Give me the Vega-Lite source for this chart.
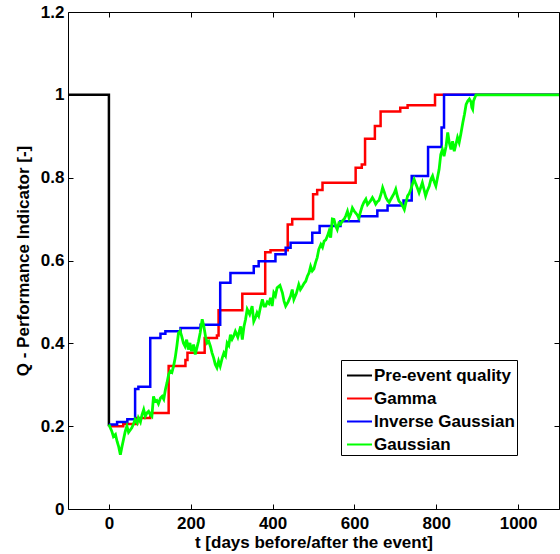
{
  "$schema": "https://vega.github.io/schema/vega-lite/v6.json",
  "autosize": {"type": "none"},
  "width": 491,
  "height": 497,
  "padding": {"left": 68, "top": 12, "right": 1, "bottom": 45},
  "background": "white",
  "config": {
    "font": "Liberation Sans",
    "view": {"stroke": "black", "strokeWidth": 1},
    "axis": {
      "labelFont": "Liberation Sans", "labelFontSize": 17, "labelFontWeight": "bold", "labelColor": "black",
      "titleFont": "Liberation Sans", "titleFontSize": 17, "titleFontWeight": "bold", "titleColor": "black",
      "domain": false, "tickColor": "black", "tickWidth": 1, "tickSize": 5, "offset": -5, "grid": false,
      "labelFlush": false, "labelOverlap": false
    }
  },
  "data": {"values": [
    {"s": "Pre-event quality", "t": -100, "q": 1},
    {"s": "Pre-event quality", "t": 0, "q": 0.2},

    {"s": "Gamma", "t": 0, "q": 0.2},
    {"s": "Gamma", "t": 35, "q": 0.205},
    {"s": "Gamma", "t": 69, "q": 0.22},
    {"s": "Gamma", "t": 101, "q": 0.232},
    {"s": "Gamma", "t": 146, "q": 0.345},
    {"s": "Gamma", "t": 187, "q": 0.36},
    {"s": "Gamma", "t": 192, "q": 0.377},
    {"s": "Gamma", "t": 234, "q": 0.413},
    {"s": "Gamma", "t": 264, "q": 0.419},
    {"s": "Gamma", "t": 268, "q": 0.48},
    {"s": "Gamma", "t": 326, "q": 0.52},
    {"s": "Gamma", "t": 382, "q": 0.62},
    {"s": "Gamma", "t": 395, "q": 0.625},
    {"s": "Gamma", "t": 437, "q": 0.687},
    {"s": "Gamma", "t": 448, "q": 0.7},
    {"s": "Gamma", "t": 499, "q": 0.76},
    {"s": "Gamma", "t": 509, "q": 0.77},
    {"s": "Gamma", "t": 522, "q": 0.788},
    {"s": "Gamma", "t": 603, "q": 0.824},
    {"s": "Gamma", "t": 618, "q": 0.832},
    {"s": "Gamma", "t": 626, "q": 0.894},
    {"s": "Gamma", "t": 650, "q": 0.925},
    {"s": "Gamma", "t": 664, "q": 0.96},
    {"s": "Gamma", "t": 712, "q": 0.969},
    {"s": "Gamma", "t": 730, "q": 0.975},
    {"s": "Gamma", "t": 797, "q": 1},
    {"s": "Gamma", "t": 1100, "q": 1},

    {"s": "Inverse Gaussian", "t": 0, "q": 0.204},
    {"s": "Inverse Gaussian", "t": 20, "q": 0.21},
    {"s": "Inverse Gaussian", "t": 45, "q": 0.217},
    {"s": "Inverse Gaussian", "t": 64, "q": 0.29},
    {"s": "Inverse Gaussian", "t": 72, "q": 0.295},
    {"s": "Inverse Gaussian", "t": 101, "q": 0.413},
    {"s": "Inverse Gaussian", "t": 126, "q": 0.423},
    {"s": "Inverse Gaussian", "t": 138, "q": 0.429},
    {"s": "Inverse Gaussian", "t": 175, "q": 0.437},
    {"s": "Inverse Gaussian", "t": 224, "q": 0.445},
    {"s": "Inverse Gaussian", "t": 272, "q": 0.546},
    {"s": "Inverse Gaussian", "t": 297, "q": 0.57},
    {"s": "Inverse Gaussian", "t": 354, "q": 0.586},
    {"s": "Inverse Gaussian", "t": 366, "q": 0.598},
    {"s": "Inverse Gaussian", "t": 407, "q": 0.615},
    {"s": "Inverse Gaussian", "t": 432, "q": 0.631},
    {"s": "Inverse Gaussian", "t": 444, "q": 0.643},
    {"s": "Inverse Gaussian", "t": 497, "q": 0.667},
    {"s": "Inverse Gaussian", "t": 515, "q": 0.683},
    {"s": "Inverse Gaussian", "t": 566, "q": 0.695},
    {"s": "Inverse Gaussian", "t": 611, "q": 0.707},
    {"s": "Inverse Gaussian", "t": 656, "q": 0.721},
    {"s": "Inverse Gaussian", "t": 681, "q": 0.733},
    {"s": "Inverse Gaussian", "t": 720, "q": 0.745},
    {"s": "Inverse Gaussian", "t": 740, "q": 0.804},
    {"s": "Inverse Gaussian", "t": 780, "q": 0.874},
    {"s": "Inverse Gaussian", "t": 813, "q": 0.921},
    {"s": "Inverse Gaussian", "t": 819, "q": 1},
    {"s": "Inverse Gaussian", "t": 1100, "q": 1},

    {"s": "Gaussian", "t": 0, "q": 0.204},
    {"s": "Gaussian", "t": 7, "q": 0.188},
    {"s": "Gaussian", "t": 11, "q": 0.175},
    {"s": "Gaussian", "t": 16, "q": 0.18},
    {"s": "Gaussian", "t": 20, "q": 0.163},
    {"s": "Gaussian", "t": 24, "q": 0.15},
    {"s": "Gaussian", "t": 28, "q": 0.131},
    {"s": "Gaussian", "t": 32, "q": 0.151},
    {"s": "Gaussian", "t": 40, "q": 0.188},
    {"s": "Gaussian", "t": 44, "q": 0.2},
    {"s": "Gaussian", "t": 48, "q": 0.185},
    {"s": "Gaussian", "t": 56, "q": 0.196},
    {"s": "Gaussian", "t": 60, "q": 0.205},
    {"s": "Gaussian", "t": 64, "q": 0.216},
    {"s": "Gaussian", "t": 69, "q": 0.208},
    {"s": "Gaussian", "t": 72, "q": 0.22},
    {"s": "Gaussian", "t": 77, "q": 0.21},
    {"s": "Gaussian", "t": 81, "q": 0.228},
    {"s": "Gaussian", "t": 85, "q": 0.24},
    {"s": "Gaussian", "t": 89, "q": 0.224},
    {"s": "Gaussian", "t": 93, "q": 0.232},
    {"s": "Gaussian", "t": 97, "q": 0.236},
    {"s": "Gaussian", "t": 101, "q": 0.228},
    {"s": "Gaussian", "t": 105, "q": 0.224},
    {"s": "Gaussian", "t": 109, "q": 0.272},
    {"s": "Gaussian", "t": 113, "q": 0.26},
    {"s": "Gaussian", "t": 117, "q": 0.262},
    {"s": "Gaussian", "t": 121, "q": 0.254},
    {"s": "Gaussian", "t": 126, "q": 0.268},
    {"s": "Gaussian", "t": 130, "q": 0.272},
    {"s": "Gaussian", "t": 134, "q": 0.265},
    {"s": "Gaussian", "t": 138, "q": 0.288},
    {"s": "Gaussian", "t": 142, "q": 0.305},
    {"s": "Gaussian", "t": 146, "q": 0.325},
    {"s": "Gaussian", "t": 150, "q": 0.333},
    {"s": "Gaussian", "t": 154, "q": 0.33},
    {"s": "Gaussian", "t": 158, "q": 0.345},
    {"s": "Gaussian", "t": 162, "q": 0.365},
    {"s": "Gaussian", "t": 166, "q": 0.393},
    {"s": "Gaussian", "t": 170, "q": 0.425},
    {"s": "Gaussian", "t": 174, "q": 0.43},
    {"s": "Gaussian", "t": 178, "q": 0.417},
    {"s": "Gaussian", "t": 182, "q": 0.401},
    {"s": "Gaussian", "t": 186, "q": 0.393},
    {"s": "Gaussian", "t": 190, "q": 0.409},
    {"s": "Gaussian", "t": 194, "q": 0.385},
    {"s": "Gaussian", "t": 198, "q": 0.401},
    {"s": "Gaussian", "t": 202, "q": 0.381},
    {"s": "Gaussian", "t": 207, "q": 0.397},
    {"s": "Gaussian", "t": 211, "q": 0.373},
    {"s": "Gaussian", "t": 215, "q": 0.389},
    {"s": "Gaussian", "t": 219, "q": 0.405},
    {"s": "Gaussian", "t": 223, "q": 0.425},
    {"s": "Gaussian", "t": 228, "q": 0.458},
    {"s": "Gaussian", "t": 232, "q": 0.441},
    {"s": "Gaussian", "t": 236, "q": 0.417},
    {"s": "Gaussian", "t": 240, "q": 0.401},
    {"s": "Gaussian", "t": 244, "q": 0.405},
    {"s": "Gaussian", "t": 248, "q": 0.393},
    {"s": "Gaussian", "t": 252, "q": 0.377},
    {"s": "Gaussian", "t": 256, "q": 0.365},
    {"s": "Gaussian", "t": 260, "q": 0.349},
    {"s": "Gaussian", "t": 264, "q": 0.341},
    {"s": "Gaussian", "t": 268, "q": 0.357},
    {"s": "Gaussian", "t": 272, "q": 0.345},
    {"s": "Gaussian", "t": 277, "q": 0.365},
    {"s": "Gaussian", "t": 281, "q": 0.377},
    {"s": "Gaussian", "t": 285, "q": 0.37},
    {"s": "Gaussian", "t": 289, "q": 0.401},
    {"s": "Gaussian", "t": 293, "q": 0.395},
    {"s": "Gaussian", "t": 297, "q": 0.421},
    {"s": "Gaussian", "t": 301, "q": 0.41},
    {"s": "Gaussian", "t": 305, "q": 0.418},
    {"s": "Gaussian", "t": 309, "q": 0.429},
    {"s": "Gaussian", "t": 315, "q": 0.415},
    {"s": "Gaussian", "t": 322, "q": 0.441},
    {"s": "Gaussian", "t": 326, "q": 0.409},
    {"s": "Gaussian", "t": 330, "q": 0.44},
    {"s": "Gaussian", "t": 334, "q": 0.458},
    {"s": "Gaussian", "t": 338, "q": 0.482},
    {"s": "Gaussian", "t": 344, "q": 0.47},
    {"s": "Gaussian", "t": 350, "q": 0.49},
    {"s": "Gaussian", "t": 354, "q": 0.453},
    {"s": "Gaussian", "t": 358, "q": 0.462},
    {"s": "Gaussian", "t": 362, "q": 0.474},
    {"s": "Gaussian", "t": 366, "q": 0.466},
    {"s": "Gaussian", "t": 371, "q": 0.49},
    {"s": "Gaussian", "t": 375, "q": 0.506},
    {"s": "Gaussian", "t": 379, "q": 0.49},
    {"s": "Gaussian", "t": 383, "q": 0.49},
    {"s": "Gaussian", "t": 387, "q": 0.5},
    {"s": "Gaussian", "t": 391, "q": 0.496},
    {"s": "Gaussian", "t": 395, "q": 0.51},
    {"s": "Gaussian", "t": 399, "q": 0.49},
    {"s": "Gaussian", "t": 403, "q": 0.522},
    {"s": "Gaussian", "t": 407, "q": 0.515},
    {"s": "Gaussian", "t": 411, "q": 0.534},
    {"s": "Gaussian", "t": 418, "q": 0.54},
    {"s": "Gaussian", "t": 424, "q": 0.522},
    {"s": "Gaussian", "t": 428, "q": 0.502},
    {"s": "Gaussian", "t": 432, "q": 0.49},
    {"s": "Gaussian", "t": 438, "q": 0.5},
    {"s": "Gaussian", "t": 444, "q": 0.514},
    {"s": "Gaussian", "t": 448, "q": 0.53},
    {"s": "Gaussian", "t": 452, "q": 0.506},
    {"s": "Gaussian", "t": 458, "q": 0.52},
    {"s": "Gaussian", "t": 464, "q": 0.542},
    {"s": "Gaussian", "t": 468, "q": 0.53},
    {"s": "Gaussian", "t": 473, "q": 0.538},
    {"s": "Gaussian", "t": 477, "q": 0.545},
    {"s": "Gaussian", "t": 481, "q": 0.55},
    {"s": "Gaussian", "t": 485, "q": 0.562},
    {"s": "Gaussian", "t": 489, "q": 0.57},
    {"s": "Gaussian", "t": 493, "q": 0.586},
    {"s": "Gaussian", "t": 497, "q": 0.575},
    {"s": "Gaussian", "t": 501, "q": 0.58},
    {"s": "Gaussian", "t": 505, "q": 0.595},
    {"s": "Gaussian", "t": 509, "q": 0.607},
    {"s": "Gaussian", "t": 513, "q": 0.627},
    {"s": "Gaussian", "t": 518, "q": 0.639},
    {"s": "Gaussian", "t": 522, "q": 0.632},
    {"s": "Gaussian", "t": 526, "q": 0.647},
    {"s": "Gaussian", "t": 530, "q": 0.65},
    {"s": "Gaussian", "t": 534, "q": 0.659},
    {"s": "Gaussian", "t": 538, "q": 0.671},
    {"s": "Gaussian", "t": 542, "q": 0.655},
    {"s": "Gaussian", "t": 546, "q": 0.7},
    {"s": "Gaussian", "t": 550, "q": 0.699},
    {"s": "Gaussian", "t": 554, "q": 0.684},
    {"s": "Gaussian", "t": 558, "q": 0.675},
    {"s": "Gaussian", "t": 562, "q": 0.69},
    {"s": "Gaussian", "t": 566, "q": 0.687},
    {"s": "Gaussian", "t": 570, "q": 0.695},
    {"s": "Gaussian", "t": 575, "q": 0.7},
    {"s": "Gaussian", "t": 579, "q": 0.708},
    {"s": "Gaussian", "t": 583, "q": 0.719},
    {"s": "Gaussian", "t": 587, "q": 0.703},
    {"s": "Gaussian", "t": 591, "q": 0.712},
    {"s": "Gaussian", "t": 595, "q": 0.727},
    {"s": "Gaussian", "t": 599, "q": 0.72},
    {"s": "Gaussian", "t": 603, "q": 0.715},
    {"s": "Gaussian", "t": 607, "q": 0.71},
    {"s": "Gaussian", "t": 611, "q": 0.703},
    {"s": "Gaussian", "t": 615, "q": 0.718},
    {"s": "Gaussian", "t": 619, "q": 0.731},
    {"s": "Gaussian", "t": 623, "q": 0.74},
    {"s": "Gaussian", "t": 628, "q": 0.748},
    {"s": "Gaussian", "t": 632, "q": 0.735},
    {"s": "Gaussian", "t": 636, "q": 0.74},
    {"s": "Gaussian", "t": 640, "q": 0.745},
    {"s": "Gaussian", "t": 644, "q": 0.752},
    {"s": "Gaussian", "t": 648, "q": 0.745},
    {"s": "Gaussian", "t": 652, "q": 0.736},
    {"s": "Gaussian", "t": 656, "q": 0.742},
    {"s": "Gaussian", "t": 660, "q": 0.745},
    {"s": "Gaussian", "t": 665, "q": 0.76},
    {"s": "Gaussian", "t": 669, "q": 0.776},
    {"s": "Gaussian", "t": 673, "q": 0.765},
    {"s": "Gaussian", "t": 677, "q": 0.752},
    {"s": "Gaussian", "t": 681, "q": 0.745},
    {"s": "Gaussian", "t": 685, "q": 0.74},
    {"s": "Gaussian", "t": 689, "q": 0.748},
    {"s": "Gaussian", "t": 693, "q": 0.755},
    {"s": "Gaussian", "t": 697, "q": 0.762},
    {"s": "Gaussian", "t": 701, "q": 0.772},
    {"s": "Gaussian", "t": 705, "q": 0.755},
    {"s": "Gaussian", "t": 709, "q": 0.743},
    {"s": "Gaussian", "t": 714, "q": 0.738},
    {"s": "Gaussian", "t": 718, "q": 0.731},
    {"s": "Gaussian", "t": 722, "q": 0.723},
    {"s": "Gaussian", "t": 726, "q": 0.74},
    {"s": "Gaussian", "t": 730, "q": 0.756},
    {"s": "Gaussian", "t": 734, "q": 0.762},
    {"s": "Gaussian", "t": 738, "q": 0.772},
    {"s": "Gaussian", "t": 742, "q": 0.785},
    {"s": "Gaussian", "t": 746, "q": 0.796},
    {"s": "Gaussian", "t": 750, "q": 0.785},
    {"s": "Gaussian", "t": 754, "q": 0.775},
    {"s": "Gaussian", "t": 758, "q": 0.764},
    {"s": "Gaussian", "t": 762, "q": 0.776},
    {"s": "Gaussian", "t": 766, "q": 0.788},
    {"s": "Gaussian", "t": 770, "q": 0.772},
    {"s": "Gaussian", "t": 774, "q": 0.756},
    {"s": "Gaussian", "t": 778, "q": 0.768},
    {"s": "Gaussian", "t": 783, "q": 0.78},
    {"s": "Gaussian", "t": 787, "q": 0.796},
    {"s": "Gaussian", "t": 791, "q": 0.804},
    {"s": "Gaussian", "t": 795, "q": 0.79},
    {"s": "Gaussian", "t": 799, "q": 0.78},
    {"s": "Gaussian", "t": 803, "q": 0.8},
    {"s": "Gaussian", "t": 807, "q": 0.82},
    {"s": "Gaussian", "t": 811, "q": 0.856},
    {"s": "Gaussian", "t": 815, "q": 0.868},
    {"s": "Gaussian", "t": 819, "q": 0.852},
    {"s": "Gaussian", "t": 824, "q": 0.876},
    {"s": "Gaussian", "t": 828, "q": 0.909},
    {"s": "Gaussian", "t": 832, "q": 0.884},
    {"s": "Gaussian", "t": 836, "q": 0.868},
    {"s": "Gaussian", "t": 840, "q": 0.888},
    {"s": "Gaussian", "t": 844, "q": 0.864},
    {"s": "Gaussian", "t": 848, "q": 0.88},
    {"s": "Gaussian", "t": 852, "q": 0.897},
    {"s": "Gaussian", "t": 856, "q": 0.885},
    {"s": "Gaussian", "t": 860, "q": 0.905},
    {"s": "Gaussian", "t": 865, "q": 0.933},
    {"s": "Gaussian", "t": 869, "q": 0.953},
    {"s": "Gaussian", "t": 873, "q": 0.977},
    {"s": "Gaussian", "t": 877, "q": 0.985},
    {"s": "Gaussian", "t": 881, "q": 0.99},
    {"s": "Gaussian", "t": 885, "q": 0.983},
    {"s": "Gaussian", "t": 887, "q": 0.969},
    {"s": "Gaussian", "t": 889, "q": 0.965},
    {"s": "Gaussian", "t": 891, "q": 0.985},
    {"s": "Gaussian", "t": 897, "q": 1},
    {"s": "Gaussian", "t": 1100, "q": 1}
  ]},
  "encoding": {
    "x": {"field": "t", "type": "quantitative", "scale": {"domain": [-100, 1100], "nice": false, "zero": false}, "axis": null},
    "y": {"field": "q", "type": "quantitative", "scale": {"domain": [0, 1.2], "nice": false}, "axis": null},
    "color": {
      "field": "s", "type": "nominal",
      "scale": {"domain": ["Pre-event quality", "Gamma", "Inverse Gaussian", "Gaussian"], "range": ["#000000", "#ff0000", "#0000ff", "#00ff00"]},
      "legend": {
        "title": null, "orient": "none", "legendX": 273, "legendY": 348,
        "strokeColor": "black", "fillColor": "white", "padding": 2, "symbolOffset": 3,
        "symbolType": "stroke", "symbolSize": 625, "symbolStrokeWidth": 2,
        "labelFont": "Liberation Sans", "labelFontSize": 17, "labelFontWeight": "bold", "labelColor": "black",
        "labelLimit": 400, "labelOffset": 1, "rowPadding": 1
      }
    }
  },
  "layer": [
    {
      "transform": [{"filter": "datum.s === 'Pre-event quality'"}],
      "mark": {"type": "line", "interpolate": "step-after", "strokeWidth": 2.5},
      "encoding": {
        "x": {"field": "t", "type": "quantitative", "scale": {"domain": [-100, 1100], "nice": false, "zero": false},
          "axis": {"orient": "bottom", "values": [0, 200, 400, 600, 800, 1000], "format": "d", "labelPadding": 6,
            "title": "t [days before/after the event]", "titleBaseline": "alphabetic", "titleY": 43}},
        "y": {"field": "q", "type": "quantitative", "scale": {"domain": [0, 1.2], "nice": false},
          "axis": {"orient": "left", "values": [0, 0.2, 0.4, 0.6, 0.8, 1, 1.2], "format": "~g", "labelPadding": 4,
            "title": "Q - Performance Indicator [-]", "titleBaseline": "alphabetic", "titleX": -45}}
      }
    },
    {
      "transform": [{"filter": "datum.s === 'Gamma'"}],
      "mark": {"type": "line", "interpolate": "step-after", "strokeWidth": 2.5}
    },
    {
      "transform": [{"filter": "datum.s === 'Inverse Gaussian'"}],
      "mark": {"type": "line", "interpolate": "step-after", "strokeWidth": 2.5}
    },
    {
      "transform": [{"filter": "datum.s === 'Gaussian'"}],
      "mark": {"type": "line", "strokeWidth": 2.8},
      "encoding": {
        "x": {"field": "t", "type": "quantitative", "scale": {"domain": [-100, 1100], "nice": false, "zero": false},
          "axis": {"orient": "top", "values": [0, 200, 400, 600, 800, 1000], "labels": false, "title": null}},
        "y": {"field": "q", "type": "quantitative", "scale": {"domain": [0, 1.2], "nice": false},
          "axis": {"orient": "right", "values": [0, 0.2, 0.4, 0.6, 0.8, 1, 1.2], "labels": false, "title": null}}
      }
    }
  ],
  "resolve": {"axis": {"x": "independent", "y": "independent"}}
}
